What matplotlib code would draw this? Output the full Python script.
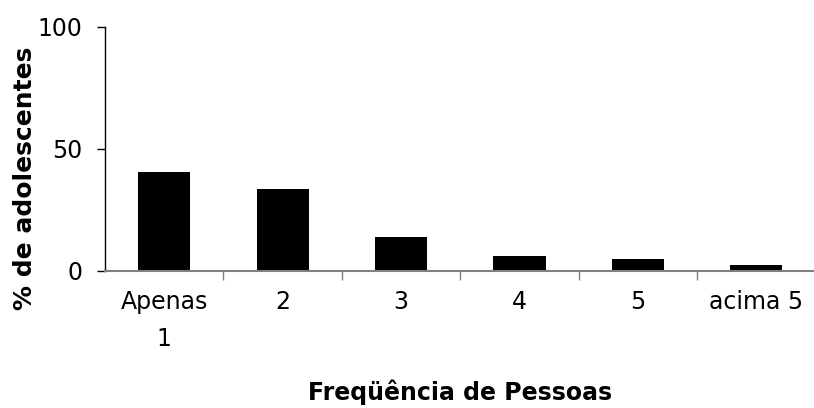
import numpy as np
import matplotlib.pyplot as plt

categorias = ["Apenas\n1", "2", "3", "4", "5", "acima 5"]
percentuais = [40.4, 33.6, 13.8, 6.3, 4.8, 2.6]

fig = plt.figure(figsize=(8.14, 4.08), dpi=100)
ax = fig.add_axes([0.129, 0.336, 0.873, 0.598])

x = np.arange(len(categorias))
ax.bar(x, percentuais, width=0.44, color="black")

ax.set_xlim(-0.5, len(categorias) - 0.5)
ax.set_ylim(0, 100)
ax.set_yticks([0, 50, 100])

# ticks of x sit between the categories, labels under the bars
ax.set_xticks(x[:-1] + 0.5)
ax.set_xticklabels([])
ax.set_xticks(x, minor=True)
ax.set_xticklabels(categorias, minor=True, fontsize=17, linespacing=1.65)
ax.tick_params(axis="x", which="minor", length=0, pad=14)
ax.tick_params(axis="x", which="major", length=6.5, width=1, color="#808080")
ax.tick_params(axis="y", length=6, width=1, labelsize=17, pad=10)

for s in ["top", "right"]:
    ax.spines[s].set_visible(False)
ax.spines["bottom"].set_color("#808080")
ax.spines["bottom"].set_linewidth(1.5)
ax.spines["left"].set_linewidth(1)

ax.set_ylabel("% de adolescentes", fontsize=18, fontweight="bold")
ax.yaxis.set_label_coords(-0.095, 0.381)
ax.set_xlabel("Freqüência de Pessoas", fontsize=17, fontweight="bold")
ax.xaxis.set_label_coords(0.5, -0.445)

fig.savefig("out.png", dpi=100)
